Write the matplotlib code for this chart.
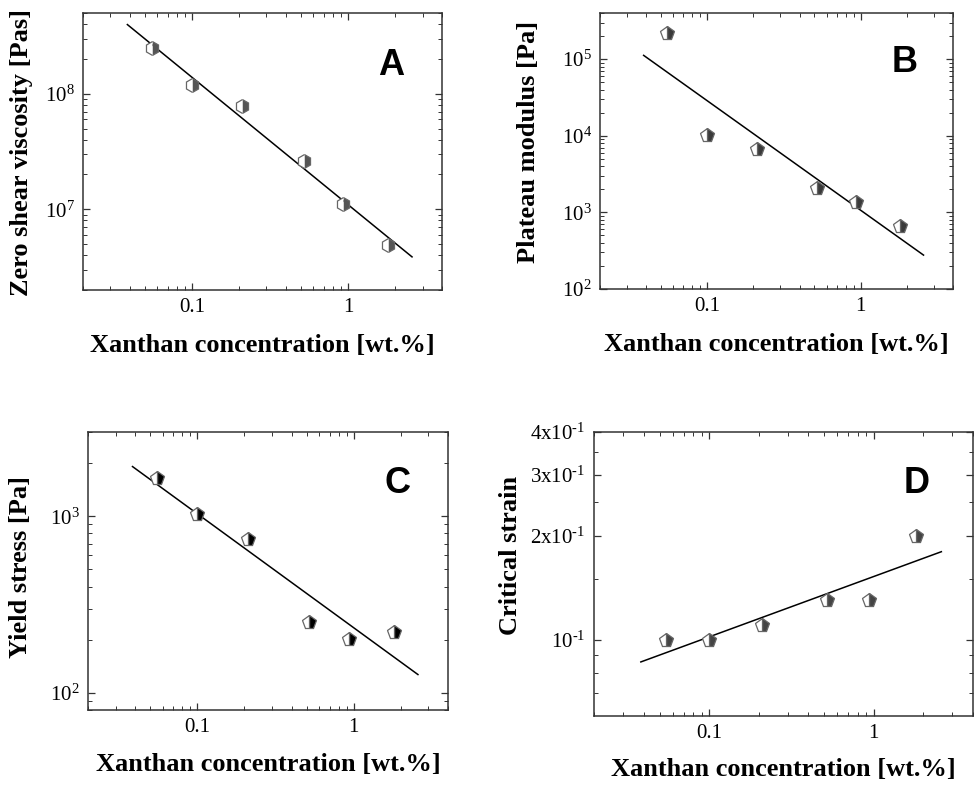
import matplotlib
matplotlib.use("Agg")
import matplotlib.pyplot as plt
from matplotlib.ticker import LogLocator, FixedLocator, FixedFormatter, NullFormatter

plt.rcParams['font.family'] = ['Liberation Serif', 'DejaVu Serif']
plt.rcParams['mathtext.fontset'] = 'custom'
plt.rcParams['mathtext.rm'] = 'Liberation Serif'
plt.rcParams['mathtext.it'] = 'Liberation Serif:italic'
plt.rcParams['mathtext.bf'] = 'Liberation Serif:bold'
plt.rcParams['axes.unicode_minus'] = False

# Xanthan concentrations (wt.%)
conc = [0.055, 0.1, 0.21, 0.52, 0.93, 1.8]

# panel data
viscosity = [2.5e8, 1.2e8, 7.9e7, 2.6e7, 1.1e7, 4.95e6]
plateau = [2.2e5, 1.02e4, 6.7e3, 2.06e3, 1.37e3, 6.7e2]
yield_stress = [1640, 1030, 746, 251, 202, 222]
crit_strain = [0.100, 0.100, 0.110, 0.130, 0.130, 0.200]

# power-law fit lines (end points)
fit_x = [0.0385, 2.57]
fit_visc = [3.97e8, 3.87e6]
fit_plat = [1.12e5, 2.77e2]
fit_yield = [1912, 127]
fit_strain = [0.0861, 0.1798]

d_ticks = [0.1, 0.2, 0.3, 0.4]
d_labels = [r'$\mathdefault{10^{\text{-}1}}$', r'$\mathdefault{2x10^{\text{-}1}}$',
            r'$\mathdefault{3x10^{\text{-}1}}$', r'$\mathdefault{4x10^{\text{-}1}}$']

W, H = 979, 785
fig = plt.figure(figsize=(W / 100, H / 100), dpi=100)


def make_axes(l, r, t, b):
    return fig.add_axes([l / W, 1 - b / H, (r - l) / W, (b - t) / H])


panels = [
    dict(box=(83, 442, 13, 290), y=viscosity, fit=fit_visc, ylim=(2e6, 5e8),
         ylabel='Zero shear viscosity [Pas]', letter='A', marker='h',
         face='#555555', lpos=(0.858, 0.809), xlab_y=-0.159, ylab=(-0.139, 0.498)),
    dict(box=(600, 953, 13, 289), y=plateau, fit=fit_plat, ylim=(1e2, 4e5),
         ylabel='Plateau modulus [Pa]', letter='B', marker='p',
         face='#3a3a3a', lpos=(0.864, 0.822), xlab_y=-0.16, ylab=(-0.17, 0.533)),
    dict(box=(88, 448, 432, 710), y=yield_stress, fit=fit_yield, ylim=(80, 3000),
         ylabel='Yield stress [Pa]', letter='C', marker='p',
         face='#000000', lpos=(0.861, 0.813), xlab_y=-0.155, ylab=(-0.156, 0.514)),
    dict(box=(594, 973, 432, 716), y=crit_strain, fit=fit_strain, ylim=(0.06, 0.4),
         ylabel='Critical strain', letter='D', marker='p',
         face='#444444', lpos=(0.852, 0.817), xlab_y=-0.148, ylab=(-0.19, 0.567)),
]

for i, p in enumerate(panels):
    ax = make_axes(*p['box'])
    ax.set_xscale('log')
    ax.set_yscale('log')
    ax.plot(fit_x, p['fit'], color='black', lw=1.1, zorder=2)
    ax.plot(conc, p['y'], linestyle='none', marker=p['marker'], markersize=10,
            fillstyle='right', markerfacecolor=p['face'],
            markerfacecoloralt='white', markeredgecolor='#666666',
            markeredgewidth=0.9, zorder=3)
    ax.set_xlim(0.02, 4)
    ax.set_ylim(*p['ylim'])

    ax.xaxis.set_major_locator(FixedLocator([0.1, 1]))
    ax.set_xticklabels(['0.1', '1'])
    ax.xaxis.set_minor_locator(LogLocator(base=10, subs=range(2, 10)))
    ax.xaxis.set_minor_formatter(NullFormatter())
    if i == 3:
        ax.yaxis.set_major_locator(FixedLocator(d_ticks))
        ax.yaxis.set_major_formatter(FixedFormatter(d_labels))
        ax.yaxis.set_minor_locator(FixedLocator([0.07, 0.08, 0.09, 0.15, 0.25, 0.35]))
    else:
        ax.yaxis.set_major_locator(LogLocator(base=10, numticks=12))
        ax.yaxis.set_minor_locator(LogLocator(base=10, subs=range(2, 10), numticks=12))
    ax.yaxis.set_minor_formatter(NullFormatter())

    ax.tick_params(which='both', direction='in', top=True, right=True,
                   labelsize=15, color='#333333')
    ax.tick_params(which='major', length=5, width=0.9, pad=6)
    ax.tick_params(which='minor', length=3, width=0.7)
    for s in ax.spines.values():
        s.set_color('#333333')
        s.set_linewidth(1.1)

    ax.set_ylabel(p['ylabel'], fontsize=19, fontweight='bold')
    ax.yaxis.set_label_coords(*p['ylab'])
    ax.set_xlabel('Xanthan concentration [wt.%]', fontsize=19, fontweight='bold')
    ax.xaxis.set_label_coords(0.5, p['xlab_y'])
    ax.text(p['lpos'][0], p['lpos'][1], p['letter'], transform=ax.transAxes,
            fontsize=26, fontweight='bold', family=['Liberation Sans', 'DejaVu Sans'],
            ha='center', va='center')

fig.savefig('out.png', dpi=100)
